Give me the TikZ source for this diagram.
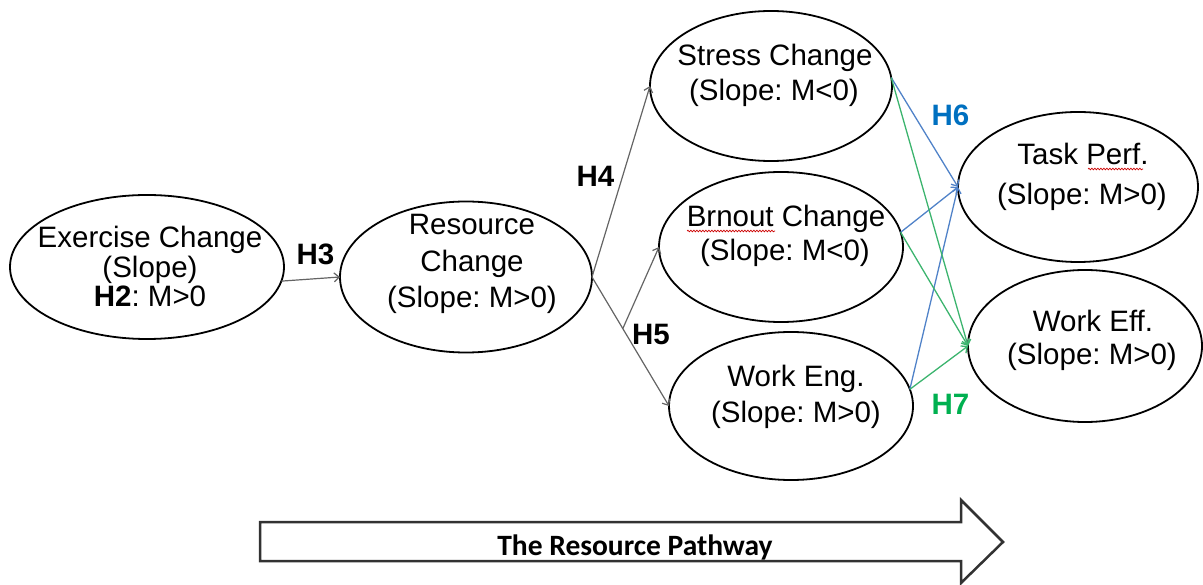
\documentclass[tikz,border=0pt]{standalone}
\usepackage{fontspec}
\setmainfont{Liberation Sans}
\newfontfamily\calibfont{Carlito}
\usetikzlibrary{shapes.geometric,arrows.meta,calc,decorations.pathmorphing}
\definecolor{arrgray}{RGB}{100,100,100}
\definecolor{lineblue}{RGB}{80,130,200}
\definecolor{linegreen}{RGB}{60,180,110}
\definecolor{textblue}{RGB}{0,112,192}
\definecolor{textgreen}{RGB}{0,176,80}
\frenchspacing
\begin{document}
\begin{tikzpicture}[x=1pt,y=-1pt,
  ell/.style={draw=black,line width=1.8pt,ellipse,inner sep=0pt,outer sep=0pt},
  txt/.style={anchor=base,inner sep=0pt,font=\fontsize{29.5}{35}\selectfont},
  hlab/.style={anchor=base,inner sep=0pt,font=\fontsize{29.5}{35}\selectfont\bfseries},
  grayarr/.style={draw=arrgray,line width=1.2pt,-{Straight Barb[length=5pt,width=9pt]}},
  bluearr/.style={draw=lineblue,line width=1.3pt,-{Straight Barb[length=5pt,width=9pt]}},
  greenarr/.style={draw=linegreen,line width=1.3pt,-{Straight Barb[length=5pt,width=9pt]}},
  spell/.style={draw=red!80!black,line width=0.7pt,decorate,decoration={snake,amplitude=0.8pt,segment length=3pt}}
]
\useasboundingbox (0,0) rectangle (1203,585);

% ellipses
\node[ell,minimum width=274pt,minimum height=144pt] (ex) at (147,267) {};
\node[ell,minimum width=252pt,minimum height=151pt] (res) at (466,277) {};
\node[ell,minimum width=242pt,minimum height=150pt] (str) at (771,86) {};
\node[ell,minimum width=244pt,minimum height=150pt] (brn) at (781,247) {};
\node[ell,minimum width=244pt,minimum height=148pt] (eng) at (791,406) {};
\node[ell,minimum width=240pt,minimum height=150pt] (tp) at (1078,187) {};
\node[ell,minimum width=234pt,minimum height=152pt] (we) at (1085,346) {};

% texts
\node[txt] (ex1) at (150,248) {Exercise Change};
\node[txt] (ex2) at (150,278) {(Slope)};
\node[txt] (ex3) at (150,307) {\textbf{H2}: M>0};
\node[txt] (res1) at (472,235) {Resource};
\node[txt] (res2) at (472,272) {Change};
\node[txt] (res3) at (472,308) {(Slope: M>0)};
\node[txt] (str1) at (775,66) {Stress Change};
\node[txt] (str2) at (774,101) {(Slope: M<0)};
\node[txt] (brn1) at (786,227) {Brnout Change};
\node[txt] (brn2) at (785,261) {(Slope: M<0)};
\node[txt] (eng1) at (796,387) {Work Eng.};
\node[txt] (eng2) at (796,423) {(Slope: M>0)};
\node[txt] (tp1) at (1083,165) {Task Perf.};
\node[txt] (tp2) at (1082,205) {(Slope: M>0)};
\node[txt] (we1) at (1093,332) {Work Eff.};
\node[txt] (we2) at (1092,365) {(Slope: M>0)};

% spell-check underlines
\coordinate (sp1a) at (687,231);
\coordinate (sp1b) at (775,231);
\draw[spell] (sp1a) -- (sp1b);
\coordinate (sp2a) at (1088,169);
\coordinate (sp2b) at (1143,169);
\draw[spell] (sp2a) -- (sp2b);

% gray arrows
\draw[grayarr] (ex.-6) -- (res.west);
\draw[grayarr] (res.east) -- (str.west);
\draw[grayarr] (res.east) -- (eng.west);
\coordinate (br) at ($(res.east)!0.4!(eng.west)$);
\draw[grayarr] (br) -- (brn.west);

% blue arrows (H6)
\draw[bluearr] (str.4) -- (tp.west);
\draw[bluearr] (brn.7) -- (tp.west);
\draw[bluearr] (eng.8) -- (tp.west);
% green arrows (H7)
\draw[greenarr] (str.4) -- (we.west);
\draw[greenarr] (brn.7) -- (we.west);
\draw[greenarr] (eng.8) -- (we.west);

% hypothesis labels
\node[hlab] (h3) at (315.5,265) {H3};
\node[hlab] (h4) at (595.5,187) {H4};
\node[hlab] (h5) at (651,345) {H5};
\node[hlab,text=textblue] (h6) at (950.5,126) {H6};
\node[hlab,text=textgreen] (h7) at (950.5,415) {H7};

% resource pathway block arrow
\draw[line width=2.5pt,draw={rgb,255:red,50;green,50;blue,50},line join=miter]
  (260,522) -- (961,522) -- (961,500) -- (1003,542) -- (961,583) -- (961,561) -- (260,561) -- cycle;
\node[anchor=base,inner sep=0pt,font=\calibfont\bfseries\fontsize{29.5}{34}\selectfont] (path) at (635,555) {The Resource Pathway};
\end{tikzpicture}
\end{document}
